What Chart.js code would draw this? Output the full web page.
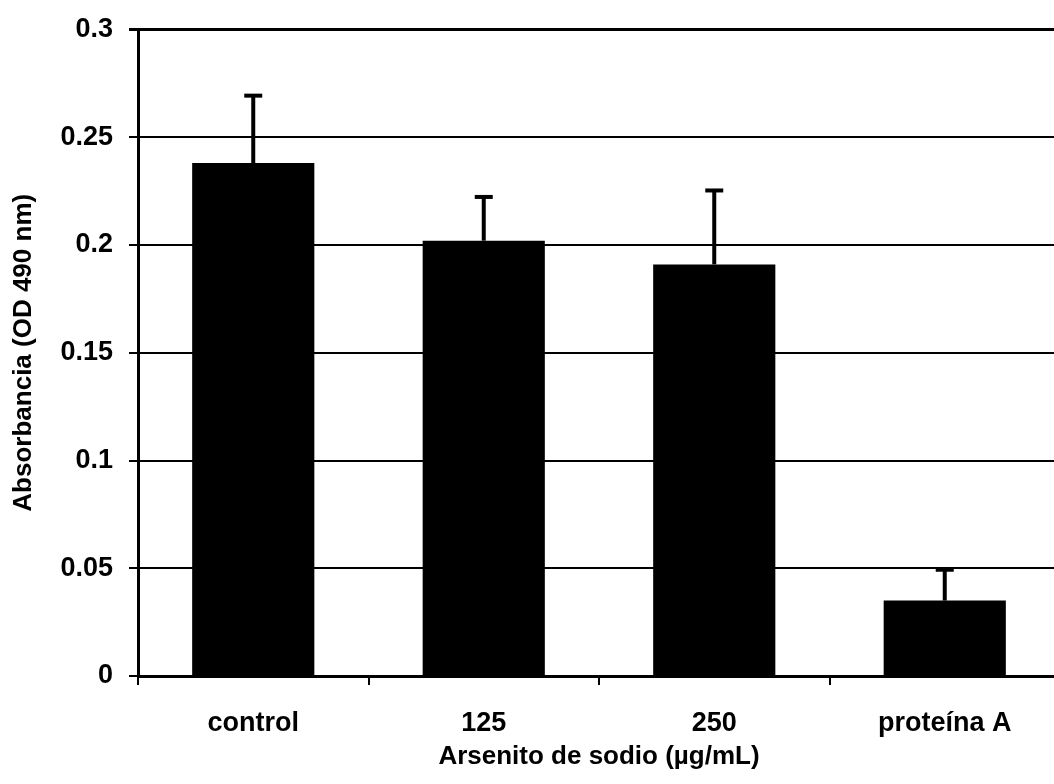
<!DOCTYPE html>
<html>
<head>
<meta charset="utf-8">
<script src="https://cdn.jsdelivr.net/npm/chart.js@4"></script>
<style>
  html, body { margin: 0; padding: 0; background: #fff; overflow: hidden; }
  #wrap { width: 1064px; height: 784px; }
</style>
</head>
<body>
<div id="wrap"><canvas id="absChart"></canvas></div>
<script>
// Absorbancia por tratamiento
const categorias = ["control", "125", "250", "proteína A"];
const absorbancia = [0.238, 0.202, 0.191, 0.035];
const errorSup = [0.032, 0.021, 0.035, 0.015];
const etiquetasY = ["0", "0.05", "0.1", "0.15", "0.2", "0.25", "0.3"];

const fuente = "'Liberation Sans', Arial, sans-serif";

// Dibuja las barras de error (solo hacia arriba) con las escalas del grafico
const barrasError = {
  id: "barrasError",
  afterDatasetsDraw(chart) {
    const { ctx, scales } = chart;
    const meta = chart.getDatasetMeta(0);
    ctx.save();
    ctx.strokeStyle = "#000";
    ctx.lineCap = "butt";
    meta.data.forEach((bar, i) => {
      const x = bar.x;
      const yBase = scales.y.getPixelForValue(absorbancia[i]);
      const yTop = scales.y.getPixelForValue(absorbancia[i] + errorSup[i]);
      ctx.lineWidth = 4;
      ctx.beginPath();
      ctx.moveTo(x, yBase);
      ctx.lineTo(x, yTop);
      ctx.stroke();
      ctx.beginPath();
      ctx.moveTo(x - 9, yTop + 1.5);
      ctx.lineTo(x + 9, yTop + 1.5);
      ctx.stroke();
    });
    ctx.restore();
  }
};

new Chart(document.getElementById("absChart"), {
  type: "bar",
  data: {
    labels: categorias,
    datasets: [{
      data: absorbancia,
      backgroundColor: "#000",
      borderWidth: 0,
      barPercentage: 0.53,
      categoryPercentage: 1
    }]
  },
  options: {
    responsive: true,
    maintainAspectRatio: false,
    animation: false,
    layout: { padding: { top: 28, right: 4, bottom: 0, left: 0 } },
    plugins: { legend: { display: false }, tooltip: { enabled: false } },
    scales: {
      x: {
        afterFit: (s) => { s.height = 108; },
        grid: { drawOnChartArea: false, drawTicks: true, tickLength: 9, color: "#000", lineWidth: 2 },
        border: { color: "#000", width: 3 },
        ticks: { color: "#000", padding: 22, font: { family: fuente, size: 27, weight: "bold" } },
        title: {
          display: true,
          text: "Arsenito de sodio (µg/mL)",
          color: "#000",
          font: { family: fuente, size: 26, weight: "bold" },
          padding: { top: 0, bottom: 12 }
        }
      },
      y: {
        min: 0,
        max: 0.3,
        afterFit: (s) => { s.width = 138; },
        afterBuildTicks: (s) => {
          s.ticks = etiquetasY.map((t) => ({ value: parseFloat(t) }));
        },
        grid: {
          color: "#000",
          lineWidth: (c) => (c.tick && c.tick.value === 0.3 ? 3 : 2),
          tickLength: 9
        },
        border: { color: "#000", width: 3 },
        ticks: {
          color: "#000",
          padding: 16,
          font: { family: fuente, size: 27, weight: "bold", lineHeight: 1 },
          callback: (v, i) => etiquetasY[i]
        },
        title: {
          display: true,
          text: "Absorbancia (OD 490 nm)",
          color: "#000",
          font: { family: fuente, size: 26, weight: "bold" },
          padding: { top: 8, bottom: 0 }
        }
      }
    }
  },
  plugins: [barrasError]
});
</script>
</body>
</html>
